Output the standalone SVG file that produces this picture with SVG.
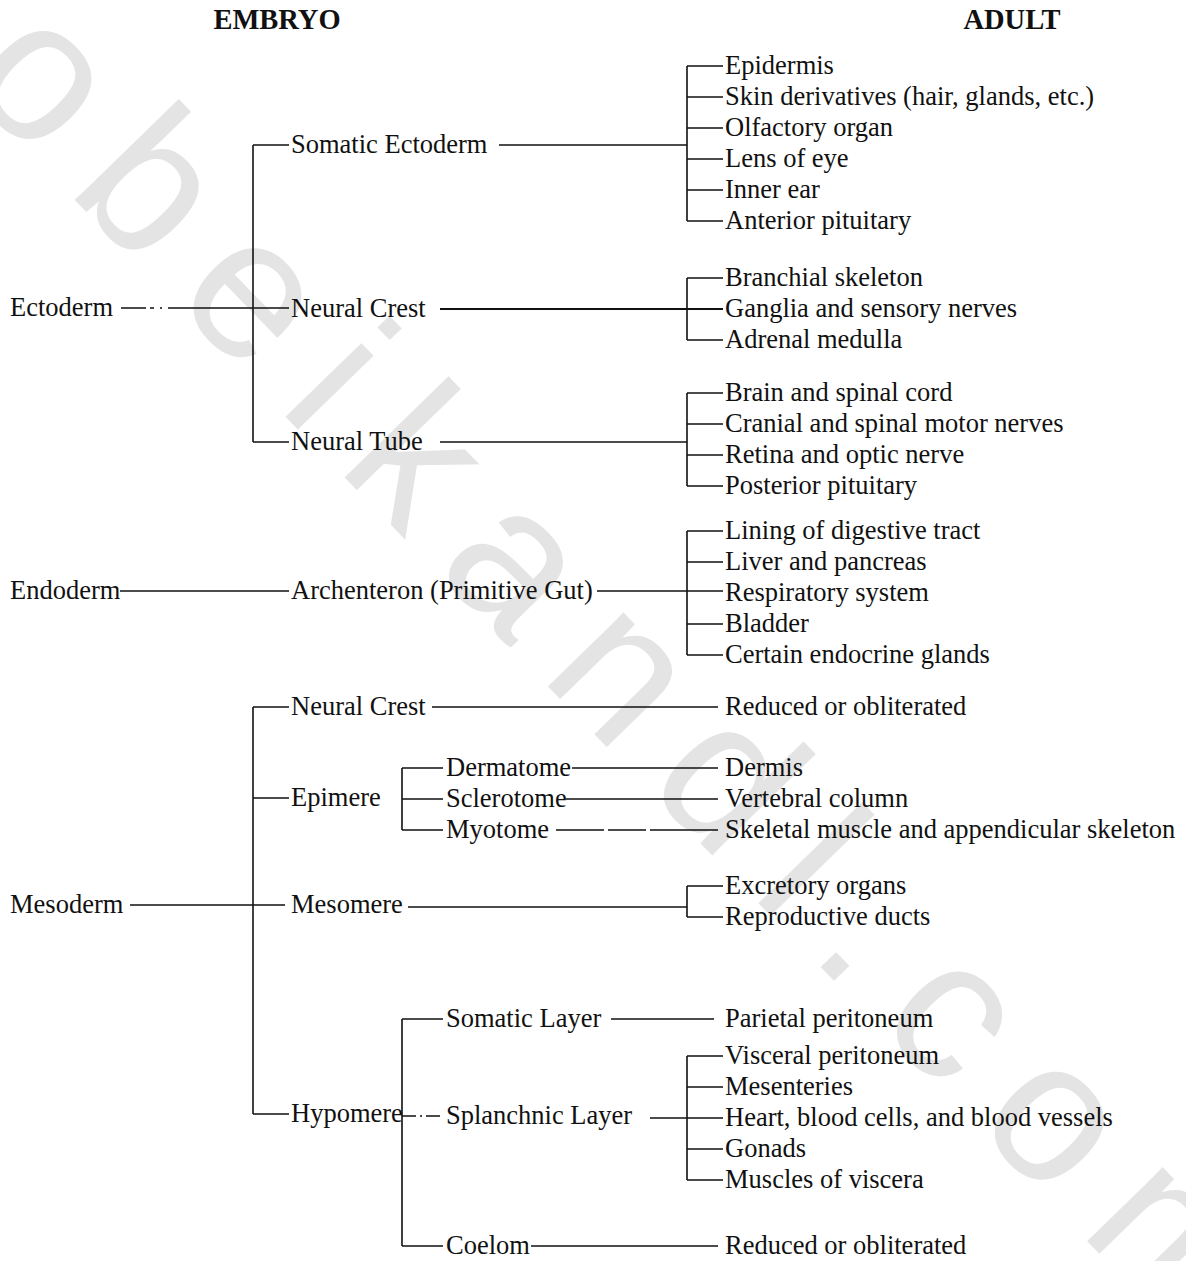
<svg xmlns="http://www.w3.org/2000/svg" width="1186" height="1261" viewBox="0 0 1186 1261">
<style>
  text { font-family: "Liberation Serif", "Times New Roman", serif; font-size: 26.5px; fill: #111; }
  .hd { font-weight: bold; font-size: 28.5px; text-anchor: middle; }
  .wm { font-family: "Liberation Sans", Arial, sans-serif; font-size: 200px; fill: #e4e4e4; letter-spacing: 40px; }
  .c path { fill: none; stroke: #111; stroke-width: 1.6; }
</style>
<rect width="1186" height="1261" fill="#ffffff"/>
<text class="wm" transform="translate(-40,82) rotate(45.8)">obeikandl.com</text>

<g id="header-embryo"><text class="hd" x="277" y="29">EMBRYO</text></g>
<g id="header-adult"><text class="hd" x="1012" y="29">ADULT</text></g>

<g class="c" id="connectors">
  <!-- Ectoderm -->
  <path d="M121,308 H146 M150,308 H154 M160,308 H162 M168,308 H289"/>
  <path d="M253,145 V442"/>
  <path d="M253,145 H289 M253,442 H289"/>
  <path d="M499,145 H687"/>
  <path d="M687,66 V221 M687,66 H723 M687,97 H723 M687,128 H723 M687,159 H723 M687,190 H723 M687,221 H723"/>
  <path d="M440,309 H723" style="stroke-width:2.2"/>
  <path d="M687,278 V340 M687,278 H723 M687,340 H723"/>
  <path d="M440,442 H687"/>
  <path d="M687,393 V486 M687,393 H723 M687,424 H723 M687,455 H723 M687,486 H723"/>
  <!-- Endoderm -->
  <path d="M120,591 H289"/>
  <path d="M597,591 H723"/>
  <path d="M687,531 V655 M687,531 H723 M687,562 H723 M687,624 H723 M687,655 H723"/>
  <!-- Mesoderm -->
  <path d="M130,905 H253"/>
  <path d="M253,707 V1114"/>
  <path d="M253,707 H289 M253,798 H289 M253,905 H285 M253,1114 H289"/>
  <path d="M432,707 H718"/>
  <path d="M402,768 V830 M402,768 H443 M402,799 H443 M402,830 H443"/>
  <path d="M572,768 H718 M566,799 H718 M556,830 H604 M608,830 H646 M650,830 H718"/>
  <path d="M408,907 H687"/>
  <path d="M687,886 V917 M687,886 H723 M687,917 H723"/>
  <path d="M402,1019 V1246 M402,1019 H443 M402,1116 H416 M420,1116 H422 M426,1116 H440 M402,1246 H443"/>
  <path d="M611,1019 H714"/>
  <path d="M650,1118 H687"/>
  <path d="M687,1056 V1180 M687,1056 H723 M687,1087 H723 M687,1118 H723 M687,1149 H723 M687,1180 H723"/>
  <path d="M531,1246 H718"/>
</g>

<!-- Embryo nodes -->
<g id="ectoderm"><text x="10" y="316">Ectoderm</text></g>
<g id="somatic-ectoderm"><text x="291" y="153">Somatic Ectoderm</text></g>
<g id="neural-crest-ecto"><text x="291" y="317">Neural Crest</text></g>
<g id="neural-tube"><text x="291" y="450">Neural Tube</text></g>
<g id="endoderm"><text x="10" y="599">Endoderm</text></g>
<g id="archenteron"><text x="291" y="599">Archenteron (Primitive Gut)</text></g>
<g id="mesoderm"><text x="10" y="913">Mesoderm</text></g>
<g id="neural-crest-meso"><text x="291" y="715">Neural Crest</text></g>
<g id="epimere"><text x="291" y="806">Epimere</text></g>
<g id="dermatome"><text x="446" y="776">Dermatome</text></g>
<g id="sclerotome"><text x="446" y="807">Sclerotome</text></g>
<g id="myotome"><text x="446" y="838">Myotome</text></g>
<g id="mesomere"><text x="291" y="913">Mesomere</text></g>
<g id="hypomere"><text x="291" y="1122">Hypomere</text></g>
<g id="somatic-layer"><text x="446" y="1027">Somatic Layer</text></g>
<g id="splanchnic-layer"><text x="446" y="1124">Splanchnic Layer</text></g>
<g id="coelom"><text x="446" y="1254">Coelom</text></g>

<!-- Adult nodes -->
<g id="epidermis"><text x="725" y="74">Epidermis</text></g>
<g id="skin-derivatives"><text x="725" y="105">Skin derivatives (hair, glands, etc.)</text></g>
<g id="olfactory-organ"><text x="725" y="136">Olfactory organ</text></g>
<g id="lens-of-eye"><text x="725" y="167">Lens of eye</text></g>
<g id="inner-ear"><text x="725" y="198">Inner ear</text></g>
<g id="anterior-pituitary"><text x="725" y="229">Anterior pituitary</text></g>
<g id="branchial-skeleton"><text x="725" y="286">Branchial skeleton</text></g>
<g id="ganglia"><text x="725" y="317">Ganglia and sensory nerves</text></g>
<g id="adrenal-medulla"><text x="725" y="348">Adrenal medulla</text></g>
<g id="brain-spinal-cord"><text x="725" y="401">Brain and spinal cord</text></g>
<g id="cranial-spinal-nerves"><text x="725" y="432">Cranial and spinal motor nerves</text></g>
<g id="retina"><text x="725" y="463">Retina and optic nerve</text></g>
<g id="posterior-pituitary"><text x="725" y="494">Posterior pituitary</text></g>
<g id="lining-digestive"><text x="725" y="539">Lining of digestive tract</text></g>
<g id="liver-pancreas"><text x="725" y="570">Liver and pancreas</text></g>
<g id="respiratory"><text x="725" y="601">Respiratory system</text></g>
<g id="bladder"><text x="725" y="632">Bladder</text></g>
<g id="endocrine"><text x="725" y="663">Certain endocrine glands</text></g>
<g id="reduced-1"><text x="725" y="715">Reduced or obliterated</text></g>
<g id="dermis"><text x="725" y="776">Dermis</text></g>
<g id="vertebral-column"><text x="725" y="807">Vertebral column</text></g>
<g id="skeletal-muscle"><text x="725" y="838">Skeletal muscle and appendicular skeleton</text></g>
<g id="excretory"><text x="725" y="894">Excretory organs</text></g>
<g id="reproductive-ducts"><text x="725" y="925">Reproductive ducts</text></g>
<g id="parietal-peritoneum"><text x="725" y="1027">Parietal peritoneum</text></g>
<g id="visceral-peritoneum"><text x="725" y="1064">Visceral peritoneum</text></g>
<g id="mesenteries"><text x="725" y="1095">Mesenteries</text></g>
<g id="heart-blood"><text x="725" y="1126">Heart, blood cells, and blood vessels</text></g>
<g id="gonads"><text x="725" y="1157">Gonads</text></g>
<g id="muscles-viscera"><text x="725" y="1188">Muscles of viscera</text></g>
<g id="reduced-2"><text x="725" y="1254">Reduced or obliterated</text></g>
</svg>
